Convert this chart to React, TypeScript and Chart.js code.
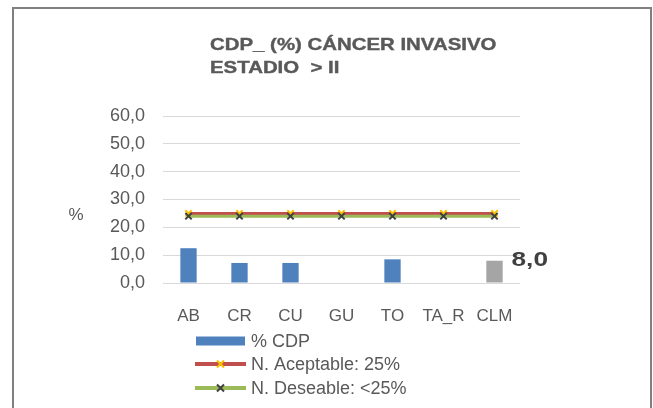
import React, { useEffect, useRef } from "react";
import { Chart, registerables } from "chart.js";

Chart.register(...registerables);

const categories = ["AB", "CR", "CU", "GU", "TO", "TA_R", "CLM"];
const cdpValues: (number | null)[] = [12.5, 7.2, 7.2, null, 8.5, null, 8.0];
const acceptableValues = [25, 25, 25, 25, 25, 25, 25];
const desirableValues = [24, 24, 24, 24, 24, 24, 24];
const yTicks = [0, 10, 20, 30, 40, 50, 60];
const titleLines = ["CDP_ (%) CÁNCER INVASIVO", "ESTADIO  > II"];
const seriesNames = ["% CDP", "N. Aceptable: 25%", "N. Deseable: <25%"];
const highlightedLabel = "8,0";

const BLUE = "#4F81BD";
const GRAY = "#A5A5A5";
const RED = "#C0504D";
const GREEN = "#9BBB59";
const YELLOW = "#FFC000";
const DARK = "#404040";
const TEXT = "#595959";
const FONT = "'Liberation Sans', Arial, sans-serif";

function drawCross(ctx: CanvasRenderingContext2D, x: number, y: number, r: number, color: string) {
  ctx.save();
  ctx.strokeStyle = color;
  ctx.lineWidth = 2;
  ctx.beginPath();
  ctx.moveTo(x - r, y - r);
  ctx.lineTo(x + r, y + r);
  ctx.moveTo(x - r, y + r);
  ctx.lineTo(x + r, y - r);
  ctx.stroke();
  ctx.restore();
}

const decorPlugin = {
  id: "decor",
  afterDraw(chart: any) {
    const ctx: CanvasRenderingContext2D = chart.ctx;
    ctx.save();
    // Title
    ctx.fillStyle = TEXT;
    ctx.strokeStyle = TEXT;
    ctx.lineWidth = 0.4;
    ctx.font = `bold 17px ${FONT}`;
    ctx.textAlign = "left";
    ctx.textBaseline = "alphabetic";
    const titleY = [50, 73];
    titleLines.forEach((line, i) => {
      ctx.save();
      ctx.translate(210, titleY[i]);
      ctx.scale(1.2, 1);
      ctx.fillText(line, 0, 0);
      ctx.strokeText(line, 0, 0);
      ctx.restore();
    });
    // y axis title
    ctx.font = `17px ${FONT}`;
    ctx.textAlign = "center";
    ctx.textBaseline = "middle";
    ctx.fillText("%", 76, 215);

    // data label on last bar
    const meta = chart.getDatasetMeta(0);
    const last = meta.data[categories.length - 1];
    if (last) {
      ctx.save();
      ctx.font = `bold 21px ${FONT}`;
      ctx.fillStyle = DARK;
      ctx.textAlign = "left";
      ctx.textBaseline = "middle";
      ctx.translate(last.x + 17, last.y - 1);
      ctx.scale(1.25, 1);
      ctx.fillText(highlightedLabel, 0, 0);
      ctx.restore();
    }

    // Legend
    const lx = 195;
    const tx = 251;
    const baselines = [347, 370, 394];
    ctx.font = `18px ${FONT}`;
    ctx.textAlign = "left";
    ctx.textBaseline = "alphabetic";
    seriesNames.forEach((name, i) => {
      const b = baselines[i];
      const cy = b - 6;
      if (i === 0) {
        ctx.fillStyle = BLUE;
        ctx.fillRect(lx + 1, cy - 4.5, 49, 9);
      } else {
        ctx.strokeStyle = i === 1 ? RED : GREEN;
        ctx.lineWidth = 4;
        ctx.beginPath();
        ctx.moveTo(lx, cy);
        ctx.lineTo(lx + 51, cy);
        ctx.stroke();
        drawCross(ctx, lx + 25.5, cy, 3.5, i === 1 ? YELLOW : DARK);
      }
      ctx.fillStyle = TEXT;
      ctx.fillText(name, tx, b);
    });
    ctx.restore();
  },
};

export default function App() {
  const ref = useRef<HTMLCanvasElement>(null);
  useEffect(() => {
    if (!ref.current) return;
    const chart = new Chart(ref.current, {
      type: "bar",
      data: {
        labels: categories,
        datasets: [
          {
            type: "bar",
            label: seriesNames[0],
            data: cdpValues,
            backgroundColor: categories.map((_, i) => (i === categories.length - 1 ? GRAY : BLUE)),
            barPercentage: 0.32,
            categoryPercentage: 1,
            order: 3,
          } as any,
          {
            type: "line",
            label: seriesNames[1],
            data: acceptableValues,
            borderColor: RED,
            borderWidth: 3,
            pointStyle: "crossRot",
            pointRadius: 4.5,
            pointBorderColor: YELLOW,
            pointBorderWidth: 2,
            pointBackgroundColor: YELLOW,
            order: 2,
          },
          {
            type: "line",
            label: seriesNames[2],
            data: desirableValues,
            borderColor: GREEN,
            borderWidth: 3,
            pointStyle: "crossRot",
            pointRadius: 4.5,
            pointBorderColor: DARK,
            pointBorderWidth: 2,
            pointBackgroundColor: DARK,
            order: 1,
          },
        ],
      },
      options: {
        responsive: false,
        animation: false,
        layout: { padding: { left: 0, top: 116, right: 133, bottom: 0 } },
        plugins: {
          legend: { display: false },
          title: { display: false },
          tooltip: { enabled: false },
        },
        scales: {
          x: {
            grid: { display: false },
            border: { display: false },
            ticks: { color: TEXT, font: { family: FONT, size: 17 }, padding: 15 },
            afterFit: (s: any) => {
              s.height = 125;
            },
          },
          y: {
            min: yTicks[0],
            max: yTicks[yTicks.length - 1],
            afterBuildTicks: (s: any) => {
              s.ticks = yTicks.map((v) => ({ value: v }));
            },
            grid: { color: "#D9D9D9", lineWidth: 1, drawTicks: false },
            border: { display: false },
            ticks: {
              color: TEXT,
              font: { family: FONT, size: 18 },
              padding: 18,
              callback: (v: any) => Number(v).toFixed(1).replace(".", ","),
            },
            afterFit: (s: any) => {
              s.width = 163;
            },
          },
        },
      },
      plugins: [decorPlugin],
    });
    return () => chart.destroy();
  }, []);
  return (
    <div style={{ position: "absolute", left: 0, top: 0, width: 653, height: 408, overflow: "hidden", background: "#fff" }}>
      <div
        style={{
          position: "absolute",
          left: 12,
          top: 7,
          width: 640,
          height: 420,
          boxSizing: "border-box",
          border: "2px solid #808080",
        }}
      />
      <canvas ref={ref} width={653} height={408} style={{ position: "absolute", left: 0, top: 0 }} />
    </div>
  );
}
